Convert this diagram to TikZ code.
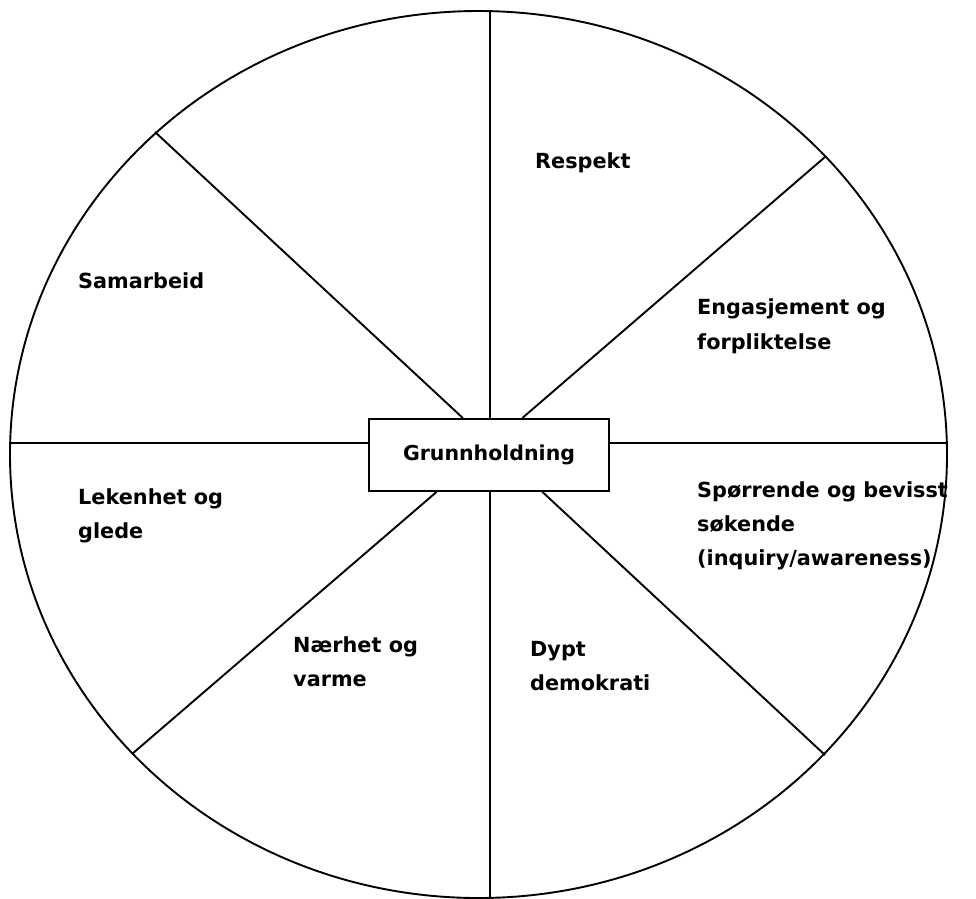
\documentclass[tikz,border=0pt]{standalone}
\usepackage{fontspec}
\setmainfont{DejaVu Sans}
\usetikzlibrary{calc}
\begin{document}
\begin{tikzpicture}[x=1pt,y=-1pt,
  wline/.style={line width=1.9pt,black},
  lbl/.style={anchor=base west,inner sep=0pt,font=\fontsize{20.8}{34}\selectfont\bfseries},
  centerbox/.style={draw,line width=1.9pt,minimum width=240pt,minimum height=72pt,inner sep=0pt,
     font=\fontsize{20.5}{34}\selectfont\bfseries,fill=white}]
\useasboundingbox (0,0) rectangle (976,898);
% outer ellipse
\draw[wline] (478.5,454.5) ellipse [x radius=468.5, y radius=443.5];
% ellipse points
\coordinate (top) at (490,11.1);
\coordinate (bot) at (490,897.9);
\coordinate (lft) at (10.2,443);
\coordinate (rgt) at (946.8,443);
\coordinate (ul) at (155,132);
\coordinate (ur) at (825,157);
\coordinate (ll) at (132,754);
\coordinate (lr) at (825,755);
% centre box
\node[centerbox] (g) at (489,455) {\raisebox{3pt}{Grunnholdning}};
% spokes
\draw[wline] ($(g.north west)!0.504!(g.north east)$) -- (top);
\draw[wline] ($(g.south west)!0.504!(g.south east)$) -- (bot);
\draw[wline] (g.west |- lft) -- (lft);
\draw[wline] (g.east |- rgt) -- (rgt);
\draw[wline] ($(g.north west)!0.392!(g.north east)$) -- (ul);
\draw[wline] ($(g.north west)!0.6375!(g.north east)$) -- (ur);
\draw[wline] ($(g.south west)!0.283!(g.south east)$) -- (ll);
\draw[wline] ($(g.south west)!0.721!(g.south east)$) -- (lr);
% labels
\node[lbl] (respekt) at (535,168) {Respekt};
\node[lbl] (samarb) at (78,288) {Samarbeid};
\node[lbl] (eng1) at (697,314) {Engasjement og};
\node[lbl] (eng2) at (697,349) {forpliktelse};
\node[lbl] (sp1) at (697,497) {Spørrende og bevisst};
\node[lbl] (sp2) at (697,531) {søkende};
\node[lbl] (sp3) at (697,565) {(inquiry/awareness)};
\node[lbl] (lek1) at (78,504) {Lekenhet og};
\node[lbl] (lek2) at (78,538) {glede};
\node[lbl] (nar1) at (293,652) {Nærhet og};
\node[lbl] (nar2) at (293,686) {varme};
\node[lbl] (dyp1) at (530,656) {Dypt};
\node[lbl] (dyp2) at (530,690) {demokrati};
\end{tikzpicture}
\end{document}
